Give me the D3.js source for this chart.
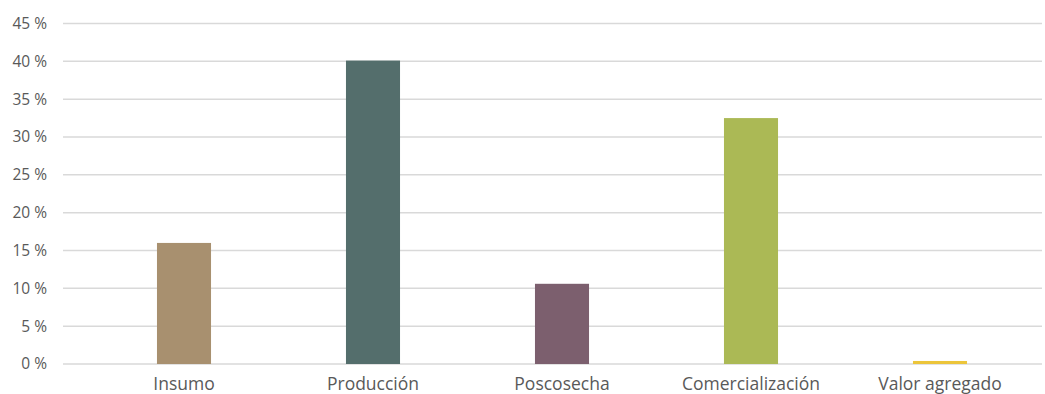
<!DOCTYPE html>
<html>
<head>
<meta charset="utf-8">
<script src="https://cdn.jsdelivr.net/npm/d3@7"></script>
<style>
  body { margin: 0; background: #fff; }
  svg text { font-family: "Open Sans", "Noto Sans", sans-serif; fill: #595959; }
</style>
</head>
<body>
<svg id="chart"></svg>
<script>
const categories = ["Insumo", "Producción", "Poscosecha", "Comercialización", "Valor agregado"];
const values = [16.0, 40.1, 10.6, 32.5, 0.4];
const colors = ["#a8906f", "#546e6c", "#7c5f6e", "#abb955", "#ecc53a"];
const yTicks = [0, 5, 10, 15, 20, 25, 30, 35, 40, 45];

const width = 1045, height = 394;
const svg = d3.select("#chart").attr("width", width).attr("height", height);

const gridLeft = 63, gridRight = 1042;
const x = d3.scaleBand().domain(categories).range([89.5, 1034.5]).paddingInner(0.714).paddingOuter(0.357);
const y = d3.scaleLinear().domain([0, 45]).range([364, 23.5]);

// grid lines
svg.append("g")
    .selectAll("line")
    .data(yTicks)
    .join("line")
    .attr("x1", gridLeft)
    .attr("x2", gridRight)
    .attr("y1", d => y(d))
    .attr("y2", d => y(d))
    .attr("stroke", "#d9d9d9")
    .attr("stroke-width", 1.5);

// y labels
svg.append("g")
    .selectAll("text")
    .data(yTicks)
    .join("text")
    .attr("x", 47)
    .attr("y", d => y(d))
    .attr("dy", "0.35em")
    .attr("text-anchor", "end")
    .style("font-size", "15.5px")
    .text(d => d + " %");

// bars
svg.append("g")
    .selectAll("rect")
    .data(values)
    .join("rect")
    .attr("x", (d, i) => x(categories[i]))
    .attr("width", x.bandwidth())
    .attr("y", d => y(d))
    .attr("height", d => y(0) - y(d))
    .attr("fill", (d, i) => colors[i]);

// x labels
svg.append("g")
    .selectAll("text")
    .data(categories)
    .join("text")
    .attr("x", d => x(d) + x.bandwidth() / 2)
    .attr("y", 390)
    .attr("text-anchor", "middle")
    .style("font-size", "17.5px")
    .text(d => d);
</script>
</body>
</html>
